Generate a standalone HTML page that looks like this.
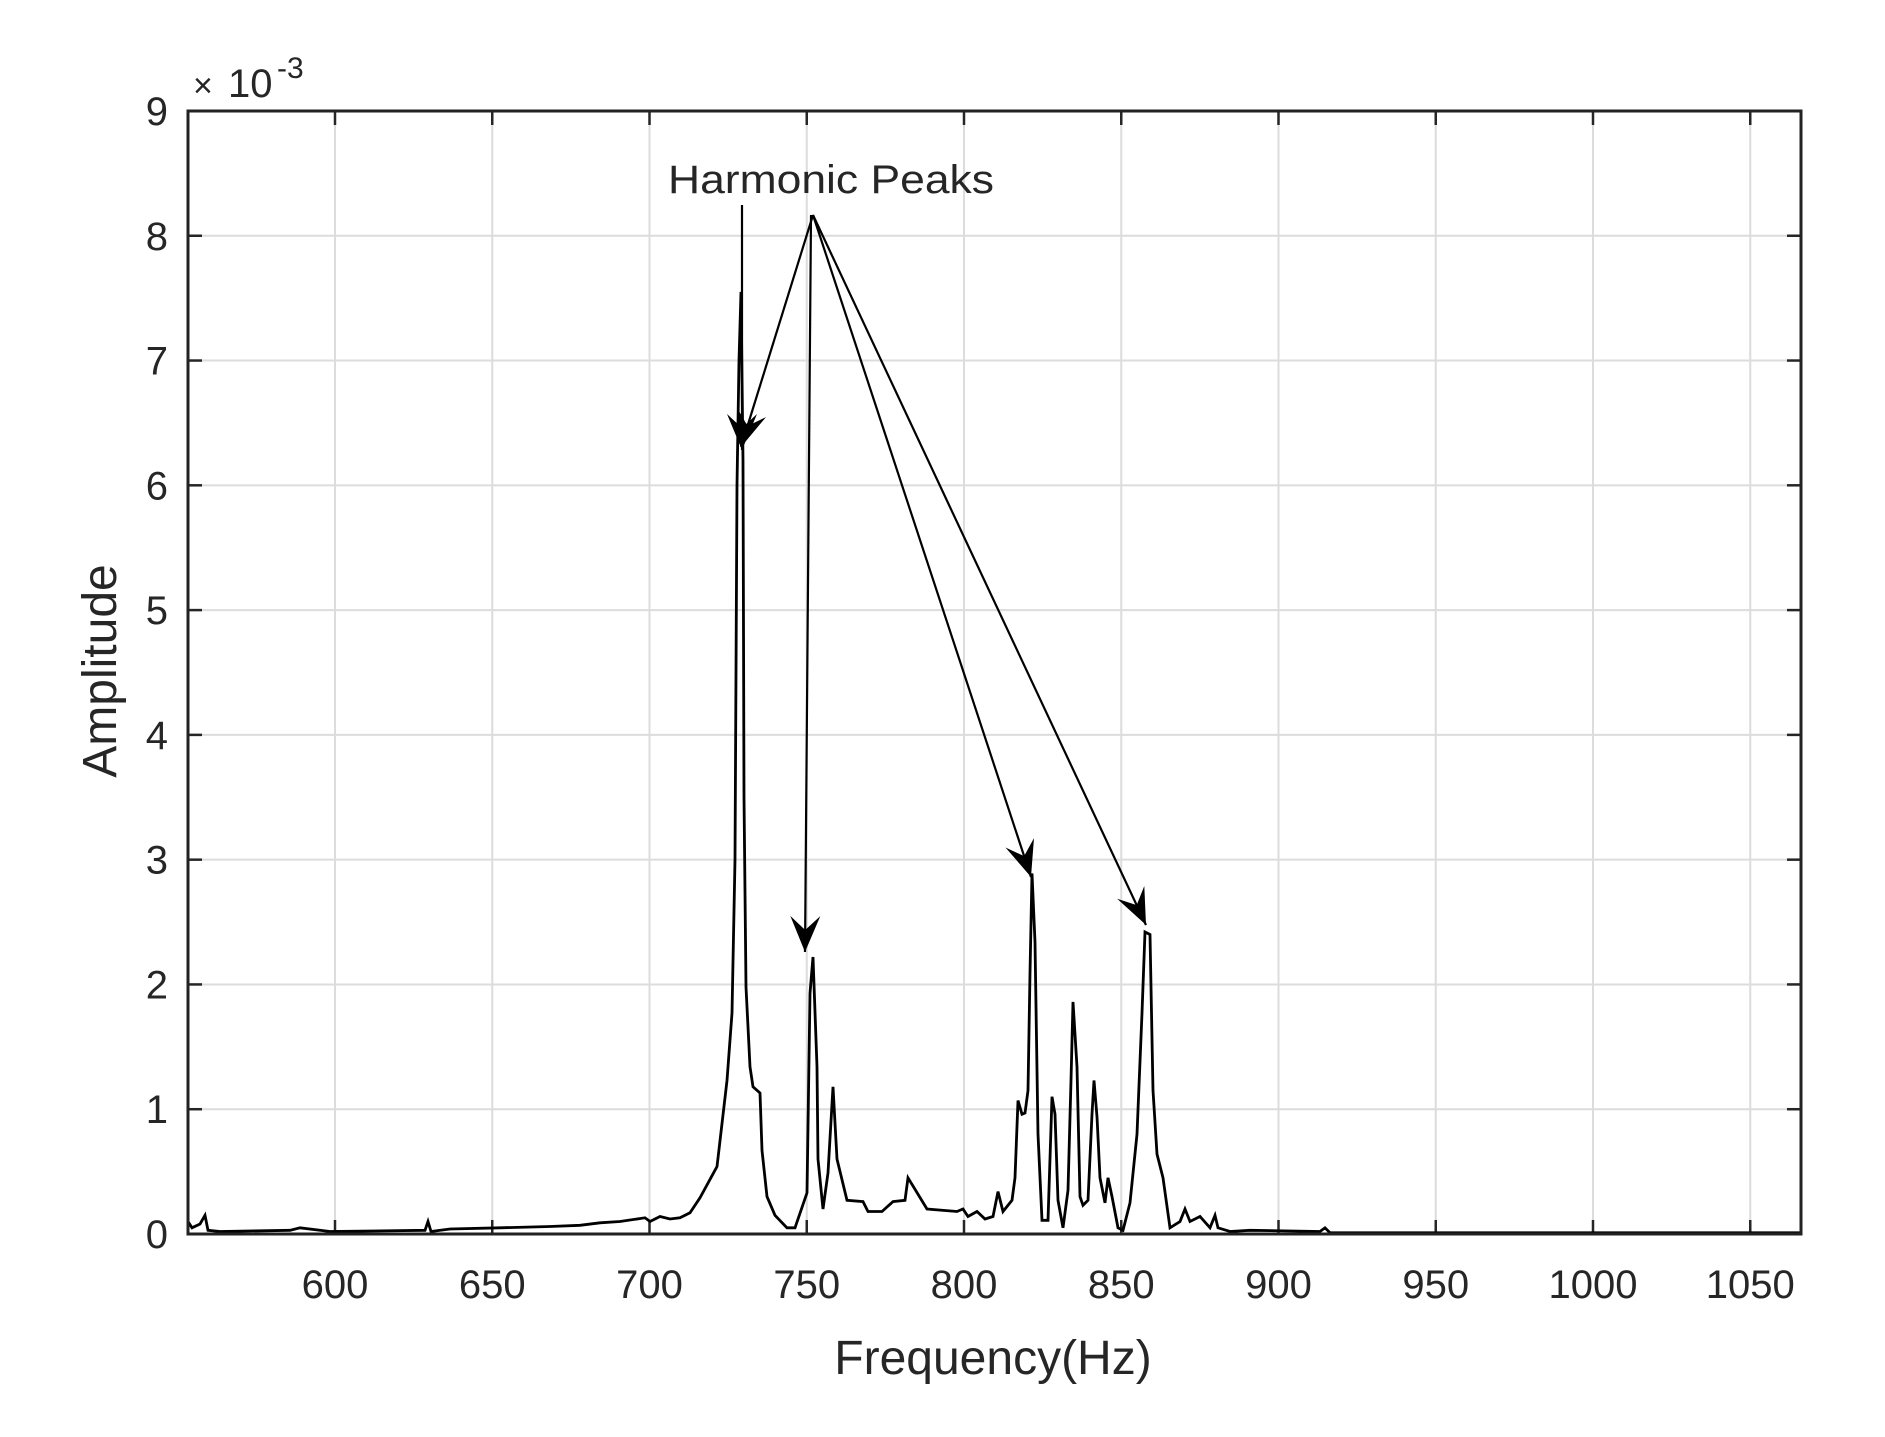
<!DOCTYPE html>
<html><head><meta charset="utf-8"><style>
html,body{margin:0;padding:0;background:#fff;}
svg{display:block;}
text{font-family:"Liberation Sans",sans-serif;fill:#262626;}
</style></head><body>
<svg id="s" width="1885" height="1437" viewBox="0 0 1885 1437" xmlns="http://www.w3.org/2000/svg">
<rect width="1885" height="1437" fill="#fff"/>
<g id="grid" stroke="#dcdcdc" stroke-width="2"></g>
<g id="ticks" stroke="#262626" stroke-width="2.5"></g>
<g id="labels" font-size="40"></g>
<text x="193" y="97" font-size="34" fill="#555">×</text>
<text x="228" y="97" font-size="40">10</text>
<text x="277" y="78" font-size="30">-3</text>
<text x="993" y="1374" font-size="48" text-anchor="middle">Frequency(Hz)</text>
<text transform="translate(116,671) rotate(-90)" font-size="48" text-anchor="middle">Amplitude</text>
<text x="668" y="193" font-size="40" fill="#111" textLength="326" lengthAdjust="spacingAndGlyphs">Harmonic Peaks</text>
<path id="spec" fill="none" stroke="#000" stroke-width="2.8" stroke-linejoin="miter"/>
<g id="arr" stroke="#000" stroke-width="2.2" fill="#000"></g>
<rect x="188" y="111" width="1613" height="1123" fill="none" stroke="#222" stroke-width="3"/>
</svg>
<script>
var NS="http://www.w3.org/2000/svg";
function el(p,t,a){var e=document.createElementNS(NS,t);for(var k in a)e.setAttribute(k,a[k]);document.getElementById(p).appendChild(e);return e;}
var L=188,R=1801,T=111,B=1234,dy=124.78;
for(var k=0;k<=9;k++){var y=B-dy*k;
 if(k>0&&k<9)el("grid","line",{x1:L,x2:R,y1:y,y2:y});
 el("ticks","line",{x1:L,x2:L+14,y1:y,y2:y});el("ticks","line",{x1:R,x2:R-14,y1:y,y2:y});
 var t=el("labels","text",{x:168,y:y+14,"text-anchor":"end"});t.textContent=k;}
for(var k=0;k<10;k++){var x=335+157.25*k;
 el("grid","line",{x1:x,x2:x,y1:T,y2:B});
 el("ticks","line",{x1:x,x2:x,y1:B,y2:B-14});el("ticks","line",{x1:x,x2:x,y1:T,y2:T+14});
 var t=el("labels","text",{x:x,y:1298,"text-anchor":"middle"});t.textContent=600+50*k;}
var d=[[188,0.1],[192,0.05],[200,0.08],[205,0.15],[208,0.03],[220,0.02],[290,0.03],[300,0.05],[330,0.02],[425,0.03],[428,0.1],[431,0.02],[450,0.04],[500,0.05],[550,0.06],[580,0.07],[600,0.09],[620,0.1],[645,0.13],[650,0.1],[660,0.14],[670,0.12],[680,0.13],[690,0.17],[700,0.29],[717,0.54],[727,1.23],[732,1.77],[735,3.0],[737,6.0],[739,7.0],[741,7.55],[743,6.2],[744,3.5],[746,1.98],[750,1.34],[753,1.18],[760,1.13],[762,0.67],[767,0.3],[775,0.15],[787,0.05],[795,0.05],[807,0.33],[810,1.93],[813,2.22],[817,1.34],[818,0.6],[823,0.2],[828,0.49],[833,1.18],[837,0.6],[847,0.27],[863,0.26],[868,0.18],[882,0.18],[893,0.26],[905,0.27],[908,0.45],[927,0.2],[957,0.18],[963,0.2],[968,0.14],[977,0.18],[985,0.12],[993,0.14],[998,0.34],[1003,0.18],[1012,0.27],[1015,0.45],[1018,1.07],[1022,0.96],[1025,0.97],[1028,1.15],[1030,2.09],[1032,2.89],[1035,2.34],[1038,0.8],[1042,0.11],[1048,0.11],[1052,1.1],[1055,0.96],[1058,0.27],[1063,0.05],[1068,0.35],[1071,1.23],[1073,1.86],[1077,1.34],[1080,0.3],[1083,0.23],[1088,0.27],[1092,0.96],[1094,1.23],[1097,0.94],[1100,0.45],[1105,0.25],[1108,0.45],[1112,0.3],[1118,0.05],[1123,0.03],[1130,0.25],[1137,0.8],[1142,1.77],[1145,2.42],[1150,2.4],[1153,1.15],[1157,0.64],[1163,0.45],[1170,0.05],[1180,0.1],[1185,0.2],[1190,0.1],[1200,0.14],[1210,0.05],[1215,0.15],[1218,0.05],[1230,0.02],[1250,0.03],[1320,0.02],[1325,0.05],[1330,0.01],[1801,0.01]];
var p="";d.forEach(function(q,i){p+=(i?"L":"M")+q[0]+" "+(B-dy*q[1]).toFixed(1)+" ";});
document.getElementById("spec").setAttribute("d",p);
function arrow(x1,y1,x2,y2){
 el("arr","line",{x1:x1,y1:y1,x2:x2,y2:y2});
 var a=Math.atan2(y2-y1,x2-x1),c=Math.cos(a),s=Math.sin(a),l=36,w=15,n=22;
 var bx=x2-c*l,by=y2-s*l,mx=x2-c*n,my=y2-s*n;
 el("arr","polygon",{points:[x2,y2,bx-s*w,by+c*w,mx,my,bx+s*w,by-c*w].join(" "),stroke:"none"});}
arrow(742,205,742,450);
arrow(813,215,741,447);
arrow(811,215,805,952);
arrow(813,215,1031,877);
arrow(813,215,1146,925);
</script>
</body></html>
